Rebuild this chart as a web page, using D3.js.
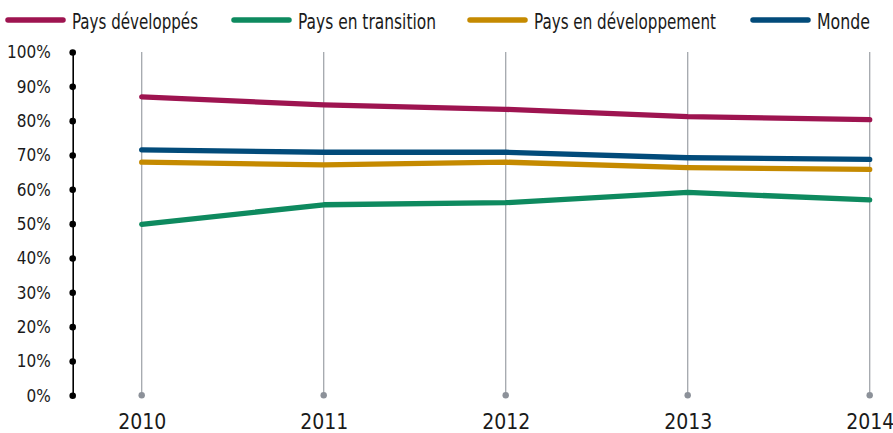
<!DOCTYPE html>
<html>
<head>
<meta charset="utf-8">
<script src="https://cdn.jsdelivr.net/npm/d3@7"></script>
<style>
html,body{margin:0;padding:0;background:#fff;}
svg{display:block;}
text{font-family:"Liberation Sans Narrow","DejaVu Sans Condensed",sans-serif;fill:#1a1a1a;}
</style>
</head>
<body>
<svg id="chart" width="893" height="433"></svg>
<script>
const years = [2010, 2011, 2012, 2013, 2014];
const seriesNames = ["Pays développés", "Pays en transition", "Pays en développement", "Monde"];
const seriesColors = ["#9e1450", "#0e8a5f", "#c58a00", "#024b7a"];
const developpes = [86.9, 84.6, 83.3, 81.2, 80.3];
const transition = [49.8, 55.5, 56.1, 59.1, 56.9];
const developpement = [67.9, 67.1, 67.9, 66.3, 65.8];
const monde = [71.5, 70.8, 70.8, 69.2, 68.7];
const yTicks = [0, 10, 20, 30, 40, 50, 60, 70, 80, 90, 100];

const seriesValues = [developpes, transition, developpement, monde];
const drawOrder = [0, 1, 2, 3];

const svg = d3.select("#chart");
const x = d3.scalePoint().domain(years).range([141.7, 869.7]);
const y = d3.scaleLinear().domain([0, 100]).range([395.3, 52]);

// vertical grid lines
const grid = svg.append("g");
grid.selectAll("line").data(years).join("line")
  .attr("x1", d => x(d)).attr("x2", d => x(d))
  .attr("y1", y(100)).attr("y2", y(0))
  .attr("stroke", "#a3a7ad").attr("stroke-width", 1.3);
grid.selectAll("circle").data(years).join("circle")
  .attr("cx", d => x(d)).attr("cy", y(0)).attr("r", 3.2)
  .attr("fill", "#8c9199");

// y axis
const yAxis = d3.axisLeft(y).tickValues(yTicks).tickSize(0).tickPadding(0)
  .tickFormat(d => d + "%");
const yg = svg.append("g").attr("transform", "translate(72.7,0)").call(yAxis);
yg.select(".domain").attr("stroke", "#000").attr("stroke-width", 1.6);
yg.selectAll(".tick text").attr("x", -22).attr("dy", "0.35em")
  .style("font-size", "17px").attr("fill", "#1a1a1a");
yg.selectAll(".tick").append("circle").attr("r", 3.3).attr("fill", "#000");

// x axis labels
const xAxis = d3.axisBottom(x).tickSize(0).tickPadding(0).tickFormat(d3.format("d"));
const xg = svg.append("g").attr("transform", `translate(0,${y(0)})`).call(xAxis);
xg.select(".domain").remove();
xg.selectAll(".tick text").attr("y", 34).attr("dy", 0)
  .style("font-size", "21px").attr("fill", "#1a1a1a");

// lines
const line = d3.line().x((d, i) => x(years[i])).y(d => y(d));
svg.append("g").selectAll("path").data(drawOrder).join("path")
  .attr("d", i => line(seriesValues[i]))
  .attr("fill", "none")
  .attr("stroke", i => seriesColors[i])
  .attr("stroke-width", 5.3)
  .attr("stroke-linecap", "round")
  .attr("stroke-linejoin", "round");

// legend
const legendX = [8, 234, 470, 753];
const legendTextW = [126, 138, 182, 53];
const lg = svg.append("g").selectAll("g").data(seriesNames).join("g")
  .attr("transform", (d, i) => `translate(${legendX[i]},20)`);
lg.append("line").attr("x1", 0).attr("x2", 55).attr("y1", 0).attr("y2", 0)
  .attr("stroke", (d, i) => seriesColors[i]).attr("stroke-width", 5.5)
  .attr("stroke-linecap", "round");
lg.append("text").attr("x", 64).attr("y", 8.5).text(d => d)
  .style("font-size", "20.5px")
  .attr("textLength", (d, i) => legendTextW[i])
  .attr("lengthAdjust", "spacingAndGlyphs");
</script>
</body>
</html>
